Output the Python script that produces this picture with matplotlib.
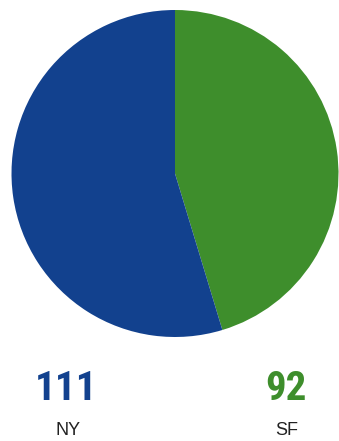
import matplotlib
matplotlib.use("Agg")
import matplotlib.pyplot as plt

cities = ["NY", "SF"]
counts = [111, 92]
colors = ["#12418e", "#3e8e2c"]

W, H = 339, 441
fig = plt.figure(figsize=(W / 100, H / 100), dpi=100)
fig.patch.set_facecolor("white")

# Pie area in pixel terms: centre and radius
cx, cy, r = 175, 173.5, 163.5
ax = fig.add_axes([(cx - r) / W, (H - cy - r) / H, 2 * r / W, 2 * r / H])
# Draw SF first, clockwise from 12 o'clock, then NY
ax.pie(counts[::-1], colors=colors[::-1], startangle=90, counterclock=False,
       wedgeprops=dict(linewidth=0))
ax.set_aspect("equal")
ax.set_xlim(-1, 1)
ax.set_ylim(-1, 1)
ax.axis("off")

num_x = [66, 286]
name_x = [68, 287]
for i, (val, name, col) in enumerate(zip(counts, cities, colors)):
    fig.text(num_x[i] / W, 1 - 389 / H, str(val), ha="center", va="center",
             fontsize=29.5, fontweight="bold", color=col, family="Roboto Condensed")
    fig.text(name_x[i] / W, 1 - 430.5 / H, name, ha="center", va="center",
             fontsize=13, color="#222222", family="Liberation Sans")

fig.savefig("out.png", dpi=100)
